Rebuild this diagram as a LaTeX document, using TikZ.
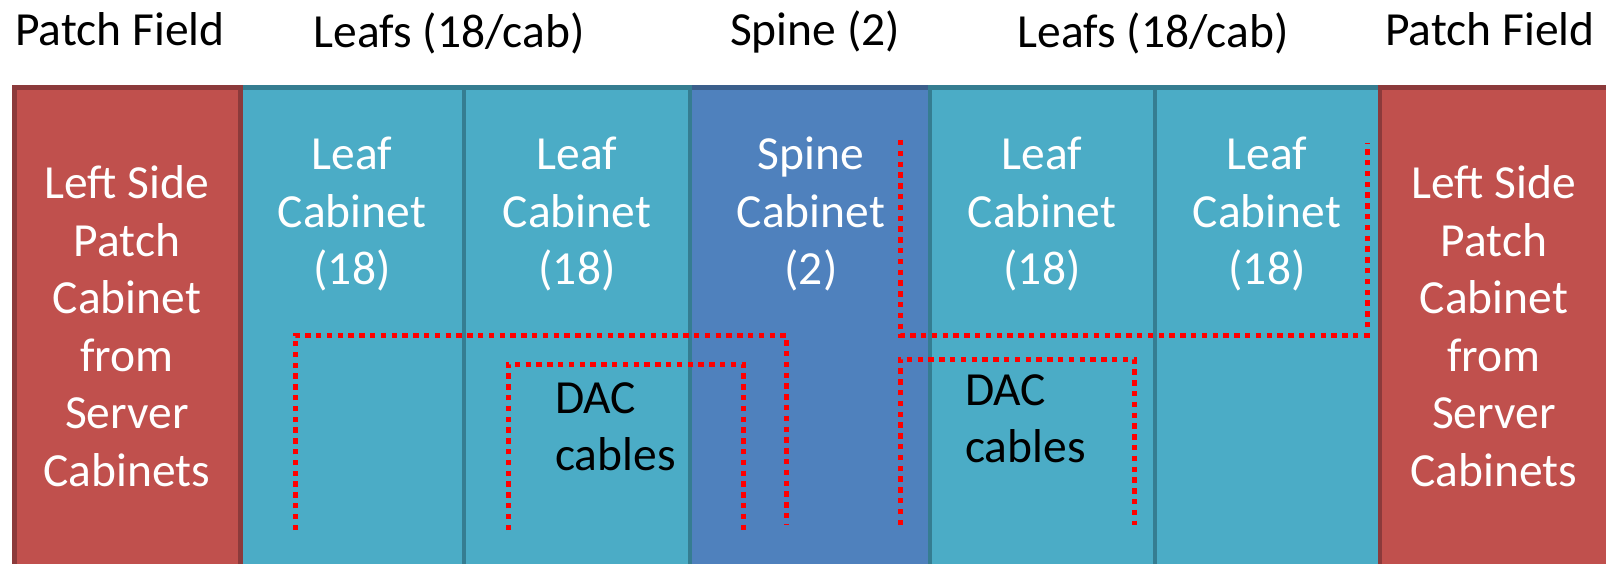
\documentclass[tikz,border=0pt]{standalone}
\usepackage{fontspec}
\setmainfont{Carlito}
\definecolor{redfill}{HTML}{C0504D}
\definecolor{redline}{HTML}{8C3A3B}
\definecolor{leaffill}{HTML}{4BACC6}
\definecolor{leafline}{HTML}{357D91}
\definecolor{spinefill}{HTML}{4F81BD}
\definecolor{spineline}{HTML}{3B5F8C}
\definecolor{cablered}{HTML}{FF0000}
\newcommand{\bigfont}{\fontsize{47.5}{57.5}\selectfont}
\tikzset{
  cab/.style={line width=4.5pt},
  redcab/.style={cab, fill=redfill, draw=redline},
  leafcab/.style={cab, fill=leaffill, draw=leafline},
  spinecab/.style={cab, fill=spinefill, draw=spineline},
  hdr/.style={inner sep=0pt, anchor=base, font=\bigfont, text=black},
  lbl/.style={inner sep=0pt, anchor=base, font=\bigfont, text=white},
  daclbl/.style={inner sep=0pt, anchor=base west, font=\bigfont, text=black},
  cable/.style={draw=cablered, line width=5pt, dash pattern=on 5.4pt off 5.4pt},
}
\newcommand{\stack}[2]{\begin{tabular}[t]{@{}#1@{}}#2\end{tabular}}
\begin{document}
\begin{tikzpicture}[x=1pt, y=-1pt]
\clip (0,0) rectangle (1606,564);
\fill[white] (0,0) rectangle (1606,564);

% cabinet row
\path[spinecab] (690,87.5) rectangle (930,620);
\path[leafcab] (240.5,87.5) rectangle (464,620);
\path[leafcab] (464,87.5) rectangle (690,620);
\path[leafcab] (930,87.5) rectangle (1155,620);
\path[leafcab] (1155,87.5) rectangle (1380,620);
\path[redcab] (14.5,87.5) rectangle (240.5,620);
\path[redcab] (1380,87.5) rectangle (1612,620);

% headings
\node[hdr] (hPatchL) at (120,46) {Patch Field};
\node[hdr] (hLeafsL) at (449,47.5) {Leafs (18/cab)};
\node[hdr] (hSpine) at (815,46) {Spine (2)};
\node[hdr] (hLeafsR) at (1153,47.5) {Leafs (18/cab)};
\node[hdr] (hPatchR) at (1490,46) {Patch Field};

% cabinet labels
\node[lbl] (patchL) at (127,199) {\stack{c}{Left Side\\Patch\\Cabinet\\from\\Server\\Cabinets}};
\node[lbl] (leafA) at (352,170) {\stack{c}{Leaf\\Cabinet\\(18)}};
\node[lbl] (leafB) at (577,170) {\stack{c}{Leaf\\Cabinet\\(18)}};
\node[lbl] (spine) at (811,170) {\stack{c}{Spine\\Cabinet\\(2)}};
\node[lbl] (leafC) at (1042,170) {\stack{c}{Leaf\\Cabinet\\(18)}};
\node[lbl] (leafD) at (1267,170) {\stack{c}{Leaf\\Cabinet\\(18)}};
\node[lbl] (patchR) at (1494,199) {\stack{c}{Left Side\\Patch\\Cabinet\\from\\Server\\Cabinets}};

% DAC cable runs
\draw[cable] (295,530) -- (295,335) -- (786,335) -- (786,524);
\draw[cable] (508,530) -- (508,364) -- (743,364) -- (743,530);
\draw[cable] (900,140) -- (900,335) -- (1367,335) -- (1367,143);
\draw[cable] (900,525) -- (900,359) -- (1134,359) -- (1134,525);

\node[daclbl] (dacL) at (555,413) {\stack{l}{DAC\\cables}};
\node[daclbl] (dacR) at (965,405) {\stack{l}{DAC\\cables}};
\end{tikzpicture}
\end{document}
